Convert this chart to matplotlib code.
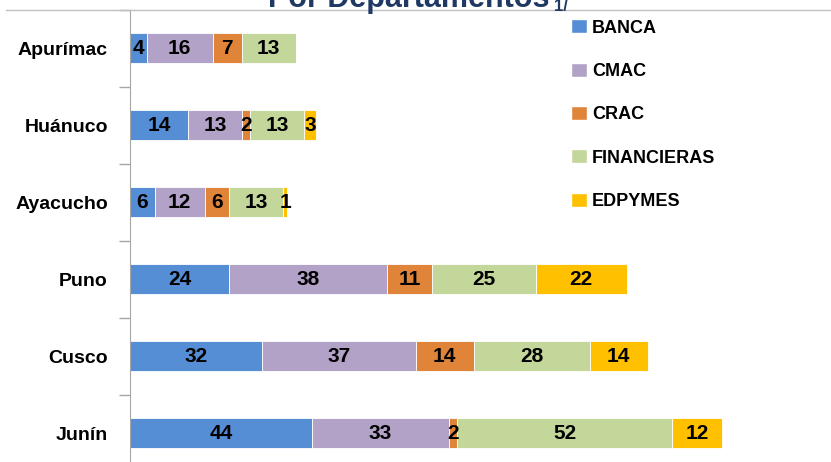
import matplotlib
matplotlib.use("Agg")
import matplotlib.pyplot as plt
from matplotlib.patches import Patch
from matplotlib.lines import Line2D

departamentos = ["Apurímac", "Huánuco", "Ayacucho", "Puno", "Cusco", "Junín"]
series = ["BANCA", "CMAC", "CRAC", "FINANCIERAS", "EDPYMES"]
banca = [4, 14, 6, 24, 32, 44]
cmac = [16, 13, 12, 38, 37, 33]
crac = [7, 2, 6, 11, 14, 2]
financieras = [13, 13, 13, 25, 28, 52]
edpymes = [0, 3, 1, 22, 14, 12]
colores = ["#558ED5", "#B3A2C7", "#E0843A", "#C4D79B", "#FFC000"]

fuente = ["Liberation Sans", "DejaVu Sans"]

fig = plt.figure(figsize=(8.31, 4.62), dpi=100)
ax = fig.add_axes([130 / 831, 0, 1 - 130 / 831, 1 - 10 / 462])

ypos = list(range(len(departamentos)))
left = [0] * len(departamentos)
for vals, col in zip([banca, cmac, crac, financieras, edpymes], colores):
    ax.barh(ypos, vals, left=left, height=0.39, color=col, edgecolor="white", linewidth=0.6)
    for y, v, l in zip(ypos, vals, left):
        if v > 0:
            ax.text(l + v / 2, y, str(v), ha="center", va="center",
                    fontsize=15, fontweight="bold", family=fuente, color="black")
    left = [a + b for a, b in zip(left, vals)]

ax.set_ylim(5.377, -0.5)
ax.set_xlim(0, (831 - 130) / 4.14)

ax.set_yticks(ypos)
ax.set_yticklabels(departamentos, fontsize=14, fontweight="bold", family=fuente)
ax.set_yticks([i - 0.5 for i in range(len(departamentos))], minor=True)
ax.tick_params(axis="y", which="major", length=0, pad=16)
ax.tick_params(axis="y", which="minor", length=8, color="#A6A6A6", width=1)
ax.set_xticks([])
for s in ["top", "right", "bottom"]:
    ax.spines[s].set_visible(False)
ax.spines["left"].set_color("#A6A6A6")

# borde superior del gráfico
fig.add_artist(Line2D([6 / 831, 1], [1 - 10 / 462, 1 - 10 / 462], color="#C0C0C0", linewidth=1))

handles = [Patch(facecolor=c, edgecolor="white") for c in colores]
fig.legend(handles, series, loc="upper left", bbox_to_anchor=(566 / 831, 1 - 14 / 462),
           frameon=False, handlelength=0.85, handleheight=0.8, handletextpad=0.3,
           labelspacing=1.45, borderaxespad=0, borderpad=0.3,
           prop={"family": fuente, "weight": "bold", "size": 13})

titulo_col = "#1F3864"
fig.text(550 / 831, 1 - 7 / 462, "Por Departamentos", ha="right", va="baseline",
         fontsize=22, fontweight="bold", color=titulo_col, family=fuente)
fig.text(554 / 831, 1 - 11 / 462, "1/", ha="left", va="baseline",
         fontsize=12, fontweight="bold", color=titulo_col, family=fuente)

fig.savefig("out.png", dpi=100)
